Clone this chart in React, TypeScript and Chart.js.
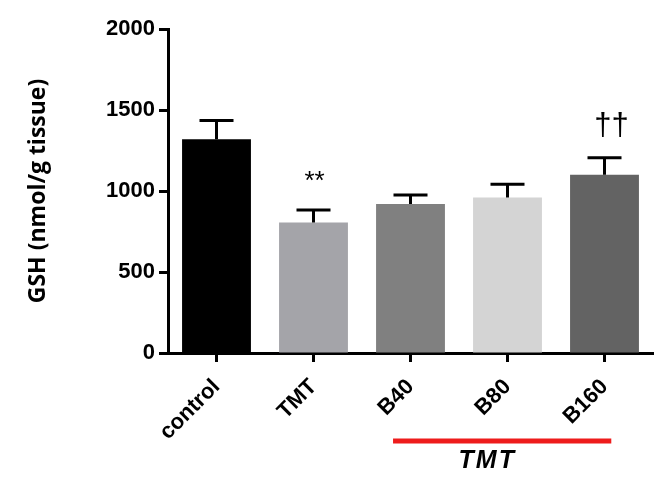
import React, { useEffect, useRef } from "react";
import { Chart, registerables } from "chart.js";

Chart.register(...registerables);

const categories = ["control", "TMT", "B40", "B80", "B160"];
const gshMeans = [1320, 805, 920, 960, 1100];
const gshSem = [115, 77, 55, 82, 105];
const significance = ["", "**", "", "", "††"];
const barColors = ["#000000", "#a4a4a9", "#808080", "#d4d4d4", "#636363"];
const yTicks = [0, 500, 1000, 1500, 2000];
const groupLabel = "TMT";
const groupRange = [2, 4];

const overlayPlugin = {
  id: "overlay",
  afterDatasetsDraw(chart: any) {
    const ctx = chart.ctx;
    const meta = chart.getDatasetMeta(0);
    const y = chart.scales.y;
    const x = chart.scales.x;
    ctx.save();
    meta.data.forEach((bar: any, i: number) => {
      const cx = bar.x;
      const base = y.getPixelForValue(gshMeans[i]);
      const top = y.getPixelForValue(gshMeans[i] + gshSem[i]);
      ctx.strokeStyle = "#000";
      ctx.lineWidth = 3;
      ctx.lineCap = "butt";
      ctx.beginPath();
      ctx.moveTo(cx, base);
      ctx.lineTo(cx, top);
      ctx.moveTo(cx - 17, top);
      ctx.lineTo(cx + 17, top);
      ctx.stroke();
      const mark = significance[i];
      if (mark) {
        ctx.fillStyle = "#000";
        ctx.textAlign = "center";
        ctx.textBaseline = "middle";
        if (mark === "**") {
          ctx.font = "26px 'Liberation Sans'";
          ctx.fillText(mark, cx + 1, top - 28);
        } else {
          ctx.font = "31px 'Liberation Sans'";
          ctx.fillText(mark, cx + 7, top - 31);
        }
      }
    });
    const step = x.getPixelForValue(1) - x.getPixelForValue(0);
    const x0 = x.getPixelForValue(groupRange[0]) - 0.18 * step;
    const x1 = x.getPixelForValue(groupRange[1]) + 0.07 * step;
    const ly = chart.chartArea.bottom + 88;
    ctx.strokeStyle = "#ee1c1c";
    ctx.lineWidth = 5;
    ctx.beginPath();
    ctx.moveTo(x0, ly);
    ctx.lineTo(x1, ly);
    ctx.stroke();
    ctx.fillStyle = "#000";
    ctx.font = "italic bold 25px 'Liberation Sans'";
    ctx.textAlign = "center";
    ctx.textBaseline = "middle";
    const label = groupLabel.split("").join("\u200A");
    ctx.fillText(label, (x0 + x1) / 2 - 16, ly + 20);
    ctx.restore();
  },
};

export default function App() {
  const ref = useRef<HTMLCanvasElement>(null);
  useEffect(() => {
    document.body.style.margin = "0";
    const canvas = ref.current!;
    const chart = new Chart(canvas, {
      type: "bar",
      data: {
        labels: categories,
        datasets: [
          {
            data: gshMeans,
            backgroundColor: barColors,
            borderWidth: 0,
            barPercentage: 0.71,
            categoryPercentage: 1,
          },
        ],
      },
      options: {
        animation: false,
        responsive: false,
        layout: { padding: { top: 29, right: 7, left: 0, bottom: 0 } },
        plugins: { legend: { display: false }, tooltip: { enabled: false } },
        scales: {
          x: {
            grid: {
              display: true,
              offset: false,
              drawOnChartArea: false,
              drawTicks: true,
              tickLength: 9,
              tickWidth: 3,
              tickColor: "#000",
            },
            border: { display: true, width: 3, color: "#000" },
            ticks: {
              minRotation: 45,
              maxRotation: 45,
              color: "#000",
              padding: 12,
              font: { family: "'Liberation Sans'", size: 22, weight: "bold" },
            },
            afterFit(scale: any) {
              scale.height = 124;
            },
          },
          y: {
            min: 0,
            max: 2000,
            afterBuildTicks(scale: any) {
              scale.ticks = yTicks.map((v) => ({ value: v }));
            },
            grid: {
              display: true,
              drawOnChartArea: false,
              drawTicks: true,
              tickLength: 9,
              tickWidth: 3,
              tickColor: "#000",
            },
            border: { display: true, width: 3, color: "#000" },
            ticks: {
              color: "#000",
              padding: 4,
              callback: (v: any) => String(v),
              font: { family: "'Liberation Sans'", size: 22, weight: "bold" },
            },
            title: {
              display: true,
              text: "GSH (nmol/g tissue)",
              color: "#000",
              padding: { top: 25, bottom: 0 },
              font: { family: "'Open Sans'", size: 23, weight: "bold" },
            },
            afterFit(scale: any) {
              scale.width = 168;
            },
          },
        },
      },
      plugins: [overlayPlugin],
    });
    return () => chart.destroy();
  }, []);
  return (
    <div style={{ width: 660, height: 477, background: "#fff" }}>
      <canvas ref={ref} width={660} height={477} />
    </div>
  );
}
